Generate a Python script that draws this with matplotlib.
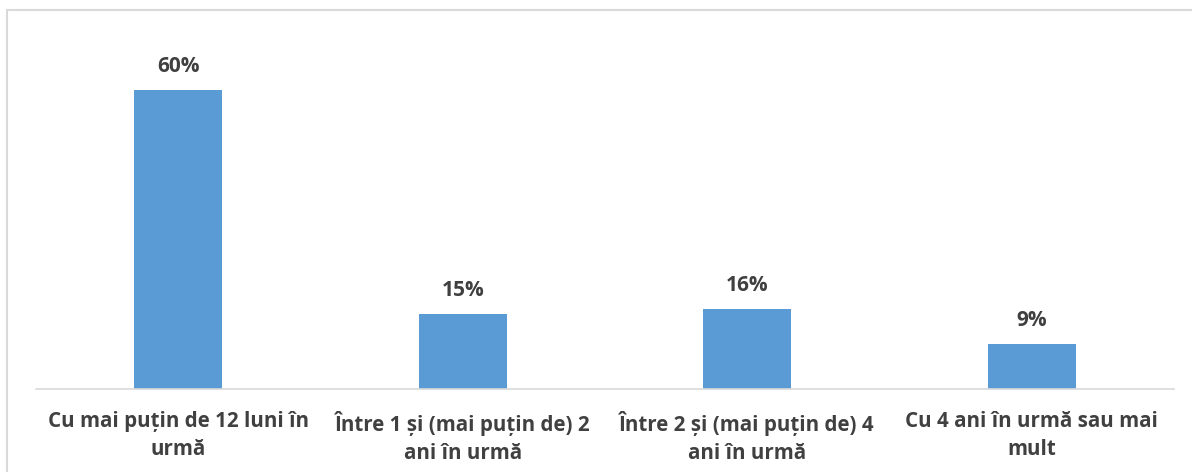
import matplotlib
matplotlib.use("Agg")
import matplotlib.pyplot as plt
from matplotlib.patches import Rectangle

# Datos
categorias = [
    "Cu mai puțin de 12 luni în\nurmă",
    "Între 1 și (mai puțin de) 2\nani în urmă",
    "Între 2 și (mai puțin de) 4\nani în urmă",
    "Cu 4 ani în urmă sau mai\nmult",
]
valores = [60, 15, 16, 9]
etiquetas = ["60%", "15%", "16%", "9%"]

AZUL = "#5B9BD5"
GRIS_TEXTO = "#404040"

plt.rcParams["font.family"] = ["Open Sans", "DejaVu Sans"]

fig = plt.figure(figsize=(11.92, 4.72), dpi=100)
ax = fig.add_axes([36 / 1192, 1 - 389 / 472, 1138 / 1192, (389 - 40) / 472])

x = range(len(valores))
barras = ax.bar(x, valores, width=0.31, color=AZUL)
for b, et in zip(barras, etiquetas):
    ax.annotate(et, (b.get_x() + b.get_width() / 2, b.get_height()),
                xytext=(0, 9.5), textcoords="offset points",
                ha="center", va="bottom", fontsize=15, fontweight="bold",
                color=GRIS_TEXTO)

ax.set_xlim(-0.5, len(valores) - 0.5)
ax.set_ylim(0, 70)
ax.set_xticks(list(x))
ax.set_xticklabels(categorias, fontsize=14.8, fontweight="bold", color=GRIS_TEXTO,
                   linespacing=1.45, multialignment="center")
ax.tick_params(axis="x", length=0, pad=16)
ax.set_yticks([])
for lado in ["top", "right", "left"]:
    ax.spines[lado].set_visible(False)
ax.spines["bottom"].set_color("#D9D9D9")
ax.spines["bottom"].set_linewidth(1.2)

# marco exterior del gráfico
fig.patches.append(Rectangle((7 / 1192, -0.1), 1.2, 1 - 10 / 472 + 0.1,
                             transform=fig.transFigure, fill=False,
                             edgecolor="#D9D9D9", linewidth=1.5))

fig.savefig("out.png", dpi=100)
